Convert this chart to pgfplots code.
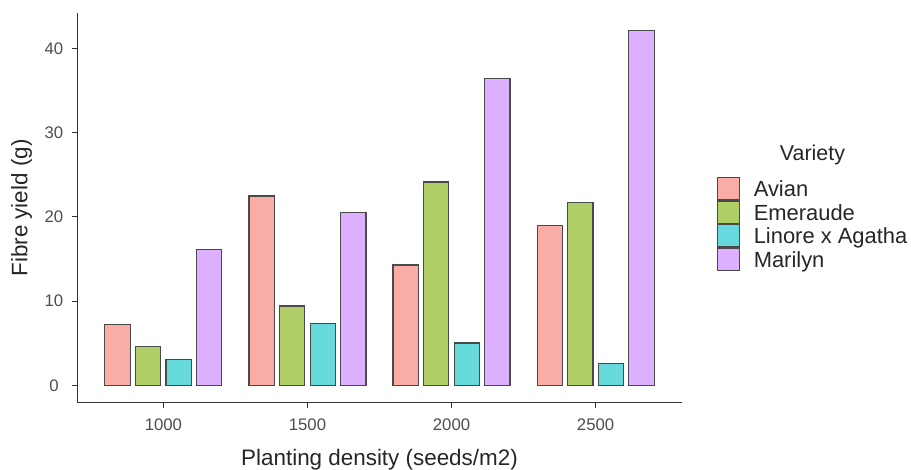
\documentclass[border=0pt]{standalone}
\usepackage{fontspec}
\setmainfont{Liberation Sans}
\usepackage{pgfplots}
\pgfplotsset{compat=1.18}
\definecolor{cA}{HTML}{FAADA7}
\definecolor{cE}{HTML}{B0CE66}
\definecolor{cL}{HTML}{66D9DC}
\definecolor{cM}{HTML}{DDB0FF}
\definecolor{edge}{HTML}{4A4A4A}
\definecolor{axisgray}{HTML}{333333}
\definecolor{ticklab}{HTML}{4D4D4D}
\begin{document}
\begin{tikzpicture}[x=1bp,y=1bp]
\path[use as bounding box] (0,0) rectangle (911,470);
\begin{axis}[
  at={(77bp,67bp)}, anchor=south west,
  width=605bp, height=390bp, scale only axis,
  xmin=700, xmax=2800, ymin=-2.1, ymax=44.2,
  axis x line*=bottom, axis y line*=left,
  axis line style={-, axisgray, line width=1bp},
  xtick={1000,1500,2000,2500}, ytick={0,10,20,30,40},
  tick align=outside, major tick length=5bp,
  tick style={axisgray, line width=1bp},
  ticklabel style={font=\fontsize{16.8}{19}\selectfont, text=ticklab},
  /pgf/number format/assume math mode=true,
  /pgf/number format/set thousands separator={},
  xticklabel style={anchor=center, yshift=-17bp},
  yticklabel style={anchor=center, xshift=-18bp},
  ybar, bar width=88,
  xlabel={Planting density (seeds/m2)},
  ylabel={Fibre yield (g)},
  label style={font=\fontsize{22.5}{26}\selectfont, text=black!85},
  xlabel style={at={(axis description cs:0.5,-0.159)}, anchor=base},
  ylabel style={at={(axis description cs:-0.082,0.5)}, anchor=base},
  legend style={at={(axis description cs:1.057,0.580)}, anchor=north west,
    draw=none, fill=none, inner sep=0pt, row sep=0pt, column sep=13.4bp,
    font=\fontsize{22}{26}\selectfont, text=black!85,
    nodes={inner sep=0pt, text height=15.8bp, text depth=0pt},
    cells={anchor=west}},
  legend image code/.code={\draw[#1] (0bp,-11.2bp) rectangle (22.6bp,11.2bp);},
]
\addplot[fill=cA, draw=edge, line width=1.1bp, bar shift=-159] coordinates {(1000,7.24) (1500,22.47) (2000,14.28) (2500,18.99)};
\addplot[fill=cE, draw=edge, line width=1.1bp, bar shift=-53] coordinates {(1000,4.58) (1500,9.41) (2000,24.13) (2500,21.72)};
\addplot[fill=cL, draw=edge, line width=1.1bp, bar shift=53] coordinates {(1000,3.09) (1500,7.31) (2000,5.02) (2500,2.61)};
\addplot[fill=cM, draw=edge, line width=1.1bp, bar shift=159] coordinates {(1000,16.10) (1500,20.49) (2000,36.47) (2500,42.09)};
\legend{Avian, Emeraude, Linore x Agatha, Marilyn}
\end{axis}
\node[anchor=base, font=\fontsize{21.5}{25}\selectfont, text=black!85] at (812.5,309.3) {Variety};
\end{tikzpicture}
\end{document}
